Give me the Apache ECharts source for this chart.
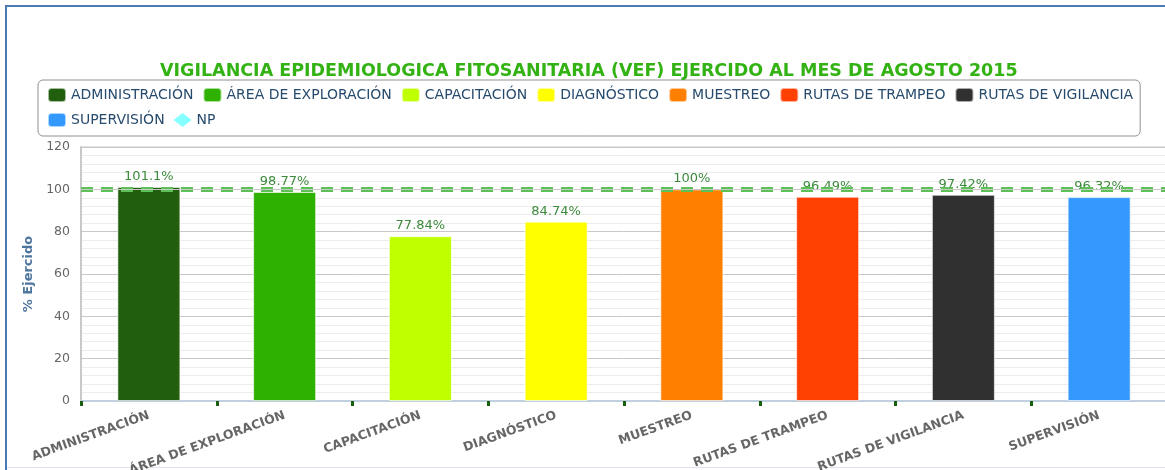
<!DOCTYPE html>
<html>
<head>
<meta charset="utf-8">
<script src="https://cdn.jsdelivr.net/npm/echarts@6/dist/echarts.min.js"></script>
<style>
  html, body { margin: 0; padding: 0; background: #fff; }
  #echarts { width: 1165px; height: 470px; }
</style>
</head>
<body>
<div id="echarts"></div>
<script>
/** 数据 */
var titulo = 'VIGILANCIA EPIDEMIOLOGICA FITOSANITARIA (VEF) EJERCIDO AL MES DE AGOSTO 2015'
var categorias = ['ADMINISTRACIÓN', 'ÁREA DE EXPLORACIÓN', 'CAPACITACIÓN', 'DIAGNÓSTICO',
  'MUESTREO', 'RUTAS DE TRAMPEO', 'RUTAS DE VIGILANCIA', 'SUPERVISIÓN']
var ejercido = [101.1, 98.77, 77.84, 84.74, 100, 96.49, 97.42, 96.32]
var colores = ['#215e0e', '#2eb100', '#bfff00', '#ffff00', '#ff8000', '#ff4000', '#303030', '#3399ff']
var meta = 100 //línea de referencia
var ejeY = { min: 0, max: 120, interval: 20 }

var fuente = 'DejaVu Sans, Verdana, sans-serif'

/** series: una por categoría, para que la leyenda muestre cada una */
var series = categorias.map(function(cat, i) {
  return {
    name: cat,
    type: 'bar',
    barWidth: 63,
    barGap: '-100%',
    itemStyle: { color: colores[i], borderColor: 'rgba(255,255,255,0.6)', borderWidth: 1 },
    label: {
      show: true,
      position: 'top',
      distance: 4,
      formatter: '{c}%',
      color: '#3d8a3d',
      fontSize: 13,
      fontFamily: fuente
    },
    data: ejercido.map(function(v, j) { return j === i ? v : '-' })
  }
})

// línea de meta al 100
series[0].markLine = {
  silent: true,
  symbol: 'none',
  label: { show: false },
  data: [
    { yAxis: meta, lineStyle: { color: '#5cc256', width: 5, type: [12, 8], opacity: 1 } },
    { yAxis: meta, lineStyle: { color: '#c8c8c8', width: 1, type: 'solid', opacity: 1 } }
  ]
}

// NP (sin datos)
series.push({
  name: 'NP',
  type: 'scatter',
  symbol: 'diamond',
  itemStyle: { color: '#66ffff' },
  data: []
})

var legendData = categorias.map(function(c) { return { name: c, icon: 'roundRect' } })
legendData.push({ name: 'NP', icon: 'diamond' })

var option = {
  animation: false,
  title: {
    text: titulo,
    left: 160,
    top: 62,
    padding: 0,
    textStyle: { color: '#33b214', fontSize: 17.5, fontWeight: 'bold', fontFamily: fuente }
  },
  legend: {
    data: legendData,
    left: 38,
    top: 80,
    width: 1110,
    padding: [7, 7, 8, 9],
    itemWidth: 18,
    itemHeight: 14,
    itemGap: 9,
    borderColor: '#909090',
    borderWidth: 1,
    borderRadius: 5,
    textStyle: { color: '#274b6d', fontSize: 14, fontFamily: fuente }
  },
  grid: {
    left: 81,
    top: 147,
    width: 1086,
    height: 254,
    outerBoundsMode: 'none',
    show: true,
    borderColor: '#c8c8c8',
    borderWidth: 1
  },
  xAxis: {
    type: 'category',
    data: categorias,
    axisLine: { lineStyle: { color: '#c0d0e0', width: 2 } },
    axisTick: { show: true, length: 5, lineStyle: { color: '#1a5e10', width: 3 } },
    axisLabel: {
      rotate: 20,
      margin: 14,
      color: '#666666',
      fontSize: 12.5,
      fontWeight: 'bold',
      fontFamily: fuente,
      interval: 0
    }
  },
  yAxis: {
    type: 'value',
    min: ejeY.min,
    max: ejeY.max,
    interval: ejeY.interval,
    name: '% Ejercido',
    nameLocation: 'middle',
    nameGap: 44,
    nameTextStyle: { color: '#4d759e', fontSize: 13, fontWeight: 'bold', fontFamily: fuente },
    axisLine: { show: true, lineStyle: { color: '#c8c8c8', width: 2 } },
    axisTick: { show: false },
    axisLabel: { color: '#666666', fontSize: 12.5, fontFamily: fuente, margin: 11 },
    splitLine: { lineStyle: { color: '#c8c8c8' } },
    minorTick: { show: false, splitNumber: 5 },
    minorSplitLine: { show: true, lineStyle: { color: '#ececec' } }
  },
  graphic: [
    { type: 'rect', shape: { x: 5, y: 5, width: 1160, height: 2 }, style: { fill: '#4a7ab5' } },
    { type: 'rect', shape: { x: 5, y: 5, width: 2, height: 465 }, style: { fill: '#4a7ab5' } },
    { type: 'rect', shape: { x: 7, y: 467, width: 1158, height: 1 }, style: { fill: '#dde4ec' } }
  ],
  series: series
}

var myChart = echarts.init(document.getElementById('echarts'))
myChart.setOption(option)
</script>
</body>
</html>
